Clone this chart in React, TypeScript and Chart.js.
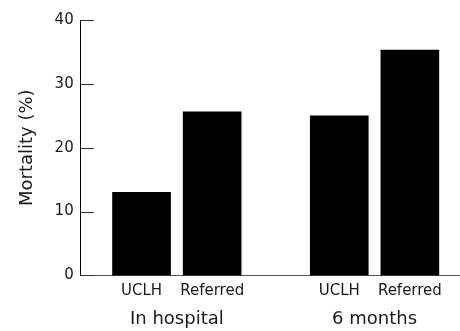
import React, { useEffect, useRef } from "react";
import { Chart, registerables } from "chart.js";

Chart.register(...registerables);

// ---- data ----
const groups = ["In hospital", "6 months"];
const subgroups = ["UCLH", "Referred"];
const uclhMortality = [13, 25];
const referredMortality = [25.6, 35.3];
const yTicks = [0, 10, 20, 30, 40];
const yTitle = "Mortality (%)";

// ---- layout constants ----
const GROUP_SPACING = 2.8;
const X_MIN = -0.862;
const X_MAX = 4.51;
const FONT = "'DejaVu Sans', sans-serif";
const TEXT = "#1a1a1a";

export default function App() {
  const ref = useRef<HTMLCanvasElement | null>(null);

  useEffect(() => {
    if (!ref.current) return;
    const points: { x: number; y: number }[] = [];
    const tickPos: number[] = [];
    const tickLabels: string[] = [];
    const groupPos: number[] = [];
    groups.forEach((g, gi) => {
      const series = [uclhMortality[gi], referredMortality[gi]];
      series.forEach((v, si) => {
        const x = gi * GROUP_SPACING + si;
        points.push({ x, y: v });
        tickPos.push(x);
        tickLabels.push(subgroups[si]);
      });
      groupPos.push(gi * GROUP_SPACING + (subgroups.length - 1) / 2);
    });

    const innerTicks = {
      id: "innerTicks",
      afterDraw(chart: any) {
        const { ctx, chartArea } = chart;
        const y = chart.scales.y;
        ctx.save();
        ctx.strokeStyle = "#333";
        ctx.lineWidth = 1;
        y.ticks.forEach((_t: any, i: number) => {
          const py = Math.round(y.getPixelForTick(i)) + 0.5;
          ctx.beginPath();
          ctx.moveTo(chartArea.left, py);
          ctx.lineTo(chartArea.left + 13, py);
          ctx.stroke();
        });
        ctx.restore();
      },
    };

    const chart = new Chart(ref.current, {
      type: "bar",
      data: {
        datasets: [
          {
            data: points as any,
            backgroundColor: "#000",
            borderWidth: 0,
            barThickness: 58,
          },
        ],
      },
      options: {
        animation: false,
        responsive: true,
        maintainAspectRatio: false,
        layout: { padding: { left: 17, top: 20, right: 0, bottom: 0 } },
        plugins: { legend: { display: false }, tooltip: { enabled: false } },
        scales: {
          x: {
            type: "linear",
            offset: false,
            min: X_MIN,
            max: X_MAX,
            weight: 0,
            afterBuildTicks: (scale: any) => {
              scale.ticks = tickPos.map((v) => ({ value: v }));
            },
            grid: { display: false, drawTicks: false, offset: false },
            border: { display: true, color: "#555", width: 1 },
            ticks: {
              autoSkip: false,
              maxRotation: 0,
              padding: 7,
              color: TEXT,
              font: { family: FONT, size: 15 },
              callback: (_v: any, i: number) => tickLabels[i],
            },
          },
          x2: {
            type: "linear",
            position: "bottom",
            offset: false,
            min: X_MIN,
            max: X_MAX,
            weight: 1,
            afterBuildTicks: (scale: any) => {
              scale.ticks = groupPos.map((v) => ({ value: v }));
            },
            grid: { display: false, drawTicks: false, offset: false },
            border: { display: false },
            ticks: {
              autoSkip: false,
              maxRotation: 0,
              padding: 1,
              color: TEXT,
              font: { family: FONT, size: 18 },
              callback: (_v: any, i: number) => groups[i],
            },
          },
          y: {
            min: yTicks[0],
            max: yTicks[yTicks.length - 1],
            afterBuildTicks: (scale: any) => {
              scale.ticks = yTicks.map((v) => ({ value: v }));
            },
            grid: { display: false, drawTicks: false },
            border: { display: true, color: "#000", width: 1 },
            ticks: {
              padding: 7,
              color: TEXT,
              font: { family: FONT, size: 15 },
            },
            title: {
              display: true,
              text: yTitle,
              color: TEXT,
              font: { family: FONT, size: 18 },
              padding: { top: 0, bottom: 9 },
            },
          },
        },
      },
      plugins: [innerTicks],
    });
    return () => chart.destroy();
  }, []);

  return (
    <div style={{ position: "fixed", left: 0, top: 0, width: 460, height: 331, background: "#fff" }}>
      <canvas ref={ref} />
    </div>
  );
}
